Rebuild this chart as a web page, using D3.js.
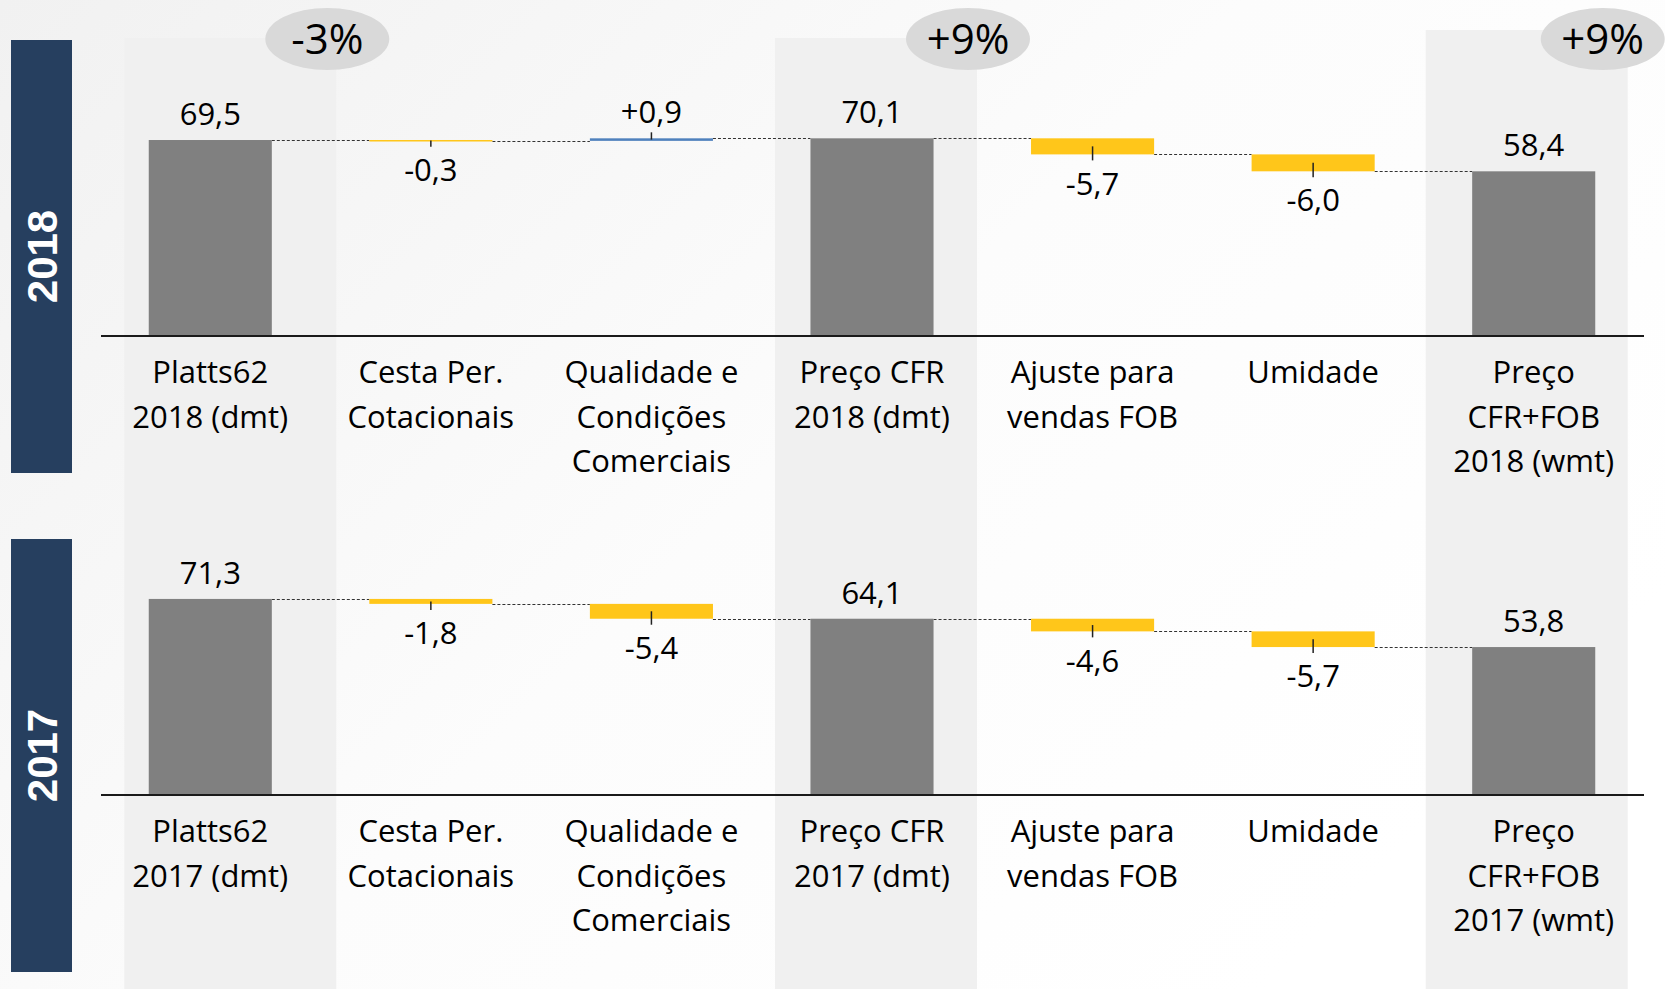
<!DOCTYPE html>
<html>
<head>
<meta charset="utf-8">
<script src="https://cdn.jsdelivr.net/npm/d3@7"></script>
<style>
  html, body { margin: 0; padding: 0; background: #fff; }
  svg { display: block; }
</style>
</head>
<body>
<svg id="chart"></svg>
<script>
// Dados
const years = ['2018', '2017'];
const kinds = ['total', 'delta', 'delta', 'total', 'delta', 'delta', 'total'];
const labels2018 = [
  ['Platts62', '2018 (dmt)'],
  ['Cesta Per.', 'Cotacionais'],
  ['Qualidade e', 'Condições', 'Comerciais'],
  ['Preço CFR', '2018 (dmt)'],
  ['Ajuste para', 'vendas FOB'],
  ['Umidade'],
  ['Preço', 'CFR+FOB', '2018 (wmt)']
];
const labels2017 = [
  ['Platts62', '2017 (dmt)'],
  ['Cesta Per.', 'Cotacionais'],
  ['Qualidade e', 'Condições', 'Comerciais'],
  ['Preço CFR', '2017 (dmt)'],
  ['Ajuste para', 'vendas FOB'],
  ['Umidade'],
  ['Preço', 'CFR+FOB', '2017 (wmt)']
];
const values2018 = [69.5, -0.3, 0.9, 70.1, -5.7, -6.0, 58.4];
const values2017 = [71.3, -1.8, -5.4, 64.1, -4.6, -5.7, 53.8];
const changeCols = [0, 3, 6];
const changeLabels = ['-3%', '+9%', '+9%'];

// Dimensoes
const width = 1665;
const height = 989;

const svg = d3.select('#chart')
  .attr('width', width)
  .attr('height', height);

// Fundo com gradiente suave
const defs = svg.append('defs');
const grad = defs.append('linearGradient')
  .attr('id', 'bg')
  .attr('x1', '0').attr('y1', '0')
  .attr('x2', '1').attr('y2', '0.6');
grad.append('stop').attr('offset', '0%').attr('stop-color', '#f1f1f1');
grad.append('stop').attr('offset', '55%').attr('stop-color', '#fcfcfc');
grad.append('stop').attr('offset', '100%').attr('stop-color', '#ffffff');

svg.append('rect')
  .attr('width', width)
  .attr('height', height)
  .attr('fill', 'url(#bg)');

const idx = d3.range(kinds.length);

const x = d3.scaleBand()
  .domain(idx)
  .range([100, 1644])
  .paddingInner(0.442)
  .paddingOuter(0.221);
const bw = x.bandwidth();
const cx = i => x(i) + bw / 2;

// Faixas cinzas atras das colunas de total
const bandShift = [20, 4, -7];
const bandTop = [38, 38, 30];
const bandWidth = [212, 202, 202];
svg.append('g')
  .selectAll('rect')
  .data(changeCols)
  .join('rect')
  .attr('x', (c, i) => cx(c) + bandShift[i] - bandWidth[i] / 2)
  .attr('y', (c, i) => bandTop[i])
  .attr('width', (c, i) => bandWidth[i])
  .attr('height', (c, i) => height - bandTop[i])
  .attr('fill', '#f0f0f0');

// Bolhas de variacao
const bubbleShift = [117, 96, 69];
const bubbles = svg.append('g')
  .selectAll('g')
  .data(changeCols)
  .join('g')
  .attr('transform', (c, i) => `translate(${cx(c) + bubbleShift[i]},39)`);
bubbles.append('ellipse')
  .attr('rx', 62)
  .attr('ry', 31)
  .attr('fill', '#d9d9d9');
bubbles.append('text')
  .attr('text-anchor', 'middle')
  .attr('dy', '0.36em')
  .attr('font-family', 'Open Sans, sans-serif')
  .attr('font-size', 42)
  .attr('fill', '#000')
  .text((c, i) => changeLabels[i]);

const locale = d3.formatLocale({ decimal: ',', thousands: '.', grouping: [3], currency: ['', ''], minus: '-' });
const fmtTotal = locale.format('.1f');
const fmtDelta = locale.format('+.1f');

const panels = [
  { year: years[0], values: values2018, labels: labels2018, axisY: 336, ppu: 2.82, box: [40, 473] },
  { year: years[1], values: values2017, labels: labels2017, axisY: 795, ppu: 2.75, box: [539, 972] }
];

panels.forEach(p => {
  const y = d3.scaleLinear()
    .domain([0, 80])
    .range([p.axisY, p.axisY - 80 * p.ppu]);

  // calcula inicio/fim de cada barra
  let run = 0;
  const rows = p.values.map((v, i) => {
    let start, end;
    if (kinds[i] === 'total') { start = 0; end = v; run = v; }
    else { start = run; end = run + v; run = end; }
    return { i, v, kind: kinds[i], start, end, level: run };
  });

  const g = svg.append('g');

  // caixa do ano
  g.append('rect')
    .attr('x', 11)
    .attr('y', p.box[0])
    .attr('width', 61)
    .attr('height', p.box[1] - p.box[0])
    .attr('fill', '#263f5f');
  const midY = (p.box[0] + p.box[1]) / 2;
  g.append('text')
    .attr('transform', `translate(42,${midY}) rotate(-90)`)
    .attr('text-anchor', 'middle')
    .attr('dy', '0.36em')
    .attr('font-family', 'Liberation Sans, Arial, sans-serif')
    .attr('font-weight', 'bold')
    .attr('font-size', 42)
    .attr('fill', '#fff')
    .text(p.year);

  // linhas tracejadas de ligacao
  g.append('g')
    .selectAll('line')
    .data(rows.slice(0, -1))
    .join('line')
    .attr('x1', d => x(d.i) + bw)
    .attr('x2', d => x(d.i + 1))
    .attr('y1', d => Math.round(y(d.level)) + 0.5)
    .attr('y2', d => Math.round(y(d.level)) + 0.5)
    .attr('stroke', '#333')
    .attr('stroke-width', 1)
    .attr('stroke-dasharray', '3,2');

  // barras
  g.append('g')
    .selectAll('rect')
    .data(rows)
    .join('rect')
    .attr('x', d => x(d.i))
    .attr('width', bw)
    .attr('y', d => Math.min(y(d.start), y(d.end)))
    .attr('height', d => Math.max(1.5, Math.abs(y(d.start) - y(d.end))))
    .attr('fill', d => d.kind === 'total' ? '#808080' : (d.v > 0 ? '#4f81bd' : '#ffc61a'));

  // pequenas marcas no centro das variacoes
  const deltas = rows.filter(d => d.kind === 'delta');
  g.append('g')
    .selectAll('line')
    .data(deltas)
    .join('line')
    .attr('x1', d => cx(d.i))
    .attr('x2', d => cx(d.i))
    .attr('y1', d => (y(d.start) + y(d.end)) / 2)
    .attr('y2', d => d.v > 0 ? y(d.end) - 6 : y(d.end) + 6)
    .attr('stroke', '#222')
    .attr('stroke-width', 1.5);

  // rotulos de valor
  g.append('g')
    .selectAll('text')
    .data(rows)
    .join('text')
    .attr('x', d => cx(d.i))
    .attr('y', d => {
      if (d.kind === 'total' || d.v > 0) return y(Math.max(d.start, d.end)) - 26;
      return y(Math.min(d.start, d.end)) + 29;
    })
    .attr('dy', '0.36em')
    .attr('text-anchor', 'middle')
    .attr('font-family', 'Open Sans, sans-serif')
    .attr('font-size', 31)
    .attr('fill', '#000')
    .text(d => d.kind === 'total' ? fmtTotal(d.v) : fmtDelta(d.v));

  // eixo
  g.append('line')
    .attr('x1', 101)
    .attr('x2', 1644)
    .attr('y1', p.axisY)
    .attr('y2', p.axisY)
    .attr('stroke', '#1a1a1a')
    .attr('stroke-width', 2);

  // categorias
  g.append('g')
    .selectAll('text')
    .data(p.labels)
    .join('text')
    .attr('text-anchor', 'middle')
    .attr('font-family', 'Open Sans, sans-serif')
    .attr('font-size', 31)
    .attr('fill', '#000')
    .each(function (lines, i) {
      d3.select(this).selectAll('tspan')
        .data(lines)
        .join('tspan')
        .attr('x', cx(i))
        .attr('y', (t, k) => p.axisY + 36 + k * 44.6)
        .attr('dy', '0.36em')
        .text(t => t);
    });
});
</script>
</body>
</html>
